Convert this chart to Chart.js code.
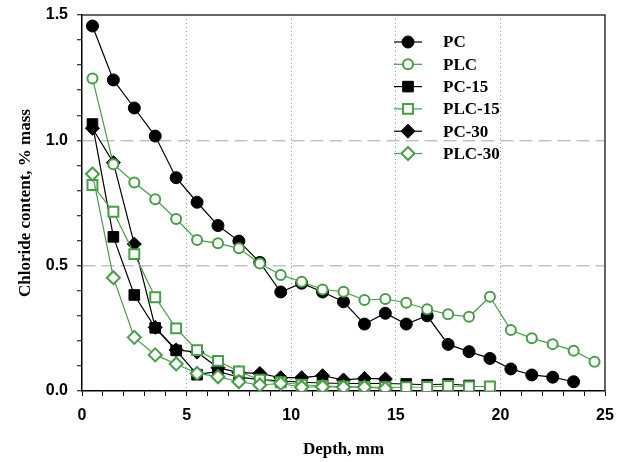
<!DOCTYPE html>
<html>
<head>
<meta charset="utf-8">
<script src="https://cdn.jsdelivr.net/npm/chart.js"></script>
<style>
html,body{margin:0;padding:0;background:#fff;}
#wrap{width:625px;height:462px;position:relative;}
</style>
</head>
<body>
<div id="wrap"><canvas id="c" width="625" height="462"></canvas></div>
<script>
const depths = [0.5,1.5,2.5,3.5,4.5,5.5,6.5,7.5,8.5,9.5,10.5,11.5,12.5,13.5,14.5,15.5,16.5,17.5,18.5,19.5,20.5,21.5,22.5,23.5,24.5];
const seriesNames = ["PC","PLC","PC-15","PLC-15","PC-30","PLC-30"];
const pcValues = [1.456,1.241,1.129,1.017,0.851,0.753,0.660,0.598,0.513,0.395,0.430,0.395,0.356,0.267,0.310,0.267,0.300,0.186,0.157,0.130,0.088,0.064,0.055,0.037];
const plcValues = [1.247,0.905,0.832,0.765,0.686,0.602,0.589,0.569,0.509,0.463,0.436,0.405,0.396,0.363,0.367,0.352,0.326,0.306,0.296,0.376,0.243,0.210,0.187,0.161,0.117];
const pc15Values = [1.065,0.615,0.383,0.252,0.162,0.065,0.078,0.055,0.045,0.040,0.035,0.032,0.030,0.030,0.030,0.028,0.025,0.028,0.022];
const plc15Values = [0.822,0.715,0.546,0.374,0.250,0.163,0.120,0.078,0.045,0.035,0.025,0.020,0.018,0.016,0.015,0.015,0.016,0.020,0.018,0.018];
const pc30Values = [1.048,0.911,0.586,0.254,0.164,0.155,0.093,0.073,0.070,0.053,0.053,0.061,0.044,0.050,0.048];
const plc30Values = [0.866,0.452,0.214,0.144,0.108,0.070,0.057,0.037,0.024,0.030,0.015,0.017,0.015,0.015,0.010];
const xTickLabels = [0,5,10,15,20,25];
const yTickLabels = [0.0,0.5,1.0,1.5];

const GREEN = '#45a045';
const BLACK = '#000000';

function pts(vals){ return vals.map((v,i)=>({x:depths[i], y:v})); }

const styles = [
  {color:BLACK, fill:BLACK, pointStyle:'circle', radius:6, bw:1, order:5},
  {color:GREEN, fill:'#ffffff', pointStyle:'circle', radius:5, bw:2, order:2},
  {color:BLACK, fill:BLACK, pointStyle:'rect', radius:7.5, bw:1, order:4},
  {color:GREEN, fill:'#ffffff', pointStyle:'rect', radius:7, bw:2, order:1},
  {color:BLACK, fill:BLACK, pointStyle:'rectRot', radius:7, bw:1, order:3},
  {color:GREEN, fill:'#ffffff', pointStyle:'rectRot', radius:6.5, bw:2, order:0}
];
const allValues = [pcValues, plcValues, pc15Values, plc15Values, pc30Values, plc30Values];

const datasets = seriesNames.map((name,i)=>({
  label:name,
  data:pts(allValues[i]),
  borderColor:styles[i].color,
  backgroundColor:styles[i].fill,
  borderWidth:1.2,
  pointStyle:styles[i].pointStyle,
  pointRadius:styles[i].radius,
  pointBorderWidth:styles[i].bw,
  pointBorderColor:styles[i].color,
  pointBackgroundColor:styles[i].fill,
  tension:0,
  fill:false,
  order:styles[i].order
}));

const frameAndLegend = {
  id:'frameAndLegend',
  afterDatasetsDraw(chart){
    const ctx = chart.ctx;
    const a = chart.chartArea;
    ctx.save();
    ctx.strokeStyle = '#333';
    ctx.lineWidth = 1.5;
    ctx.beginPath();
    ctx.moveTo(a.left, a.top);
    ctx.lineTo(a.right, a.top);
    ctx.lineTo(a.right, a.bottom);
    ctx.stroke();
    // legend
    const x0 = 394, x1 = 422, xm = 408, xt = 443;
    const y0 = 42, dy = 22.3;
    ctx.font = 'bold 17px "Liberation Serif", "Times New Roman", serif';
    ctx.textBaseline = 'middle';
    ctx.textAlign = 'left';
    seriesNames.forEach((name,i)=>{
      const y = y0 + i*dy;
      const s = styles[i];
      ctx.strokeStyle = s.color;
      ctx.lineWidth = 1.2;
      ctx.setLineDash([]);
      ctx.beginPath(); ctx.moveTo(x0,y); ctx.lineTo(x1,y); ctx.stroke();
      ctx.fillStyle = s.fill;
      ctx.strokeStyle = s.color;
      ctx.lineWidth = s.bw;
      Chart.helpers.drawPoint(ctx, {pointStyle:s.pointStyle, radius:s.radius, borderWidth:s.bw, rotation:0}, xm, y);
      ctx.fillStyle = '#000';
      ctx.fillText(name, xt, y+1);
    });
    ctx.restore();
  }
};

const tickFont = {family:'"Liberation Sans", Arial, sans-serif', size:16, weight:'bold'};
const titleFont = {family:'"Liberation Serif", "Times New Roman", serif', size:17, weight:'bold'};

new Chart(document.getElementById('c'), {
  type:'line',
  data:{datasets},
  plugins:[frameAndLegend],
  options:{
    responsive:false,
    animation:false,
    devicePixelRatio:1,
    layout:{padding:{left:8, right:20, top:15, bottom:2}},
    plugins:{legend:{display:false}, tooltip:{enabled:false}},
    scales:{
      x:{
        type:'linear', min:0, max:25,
        afterFit(s){ s.height = 69; s.paddingLeft = 0; s.paddingRight = 0; },
        ticks:{
          stepSize:1, autoSkip:false, maxRotation:0, color:'#000', font:tickFont, padding:10,
          callback:(v)=> xTickLabels.includes(Math.round(v*1000)/1000) ? String(v) : ''
        },
        grid:{
          color:(c)=> { const v=c.tick?c.tick.value:null; return (v!==null && [5,10,15,20].includes(Math.round(v*1000)/1000)) ? '#9a9a9a' : 'rgba(0,0,0,0)'; },
          lineWidth:1, tickColor:'#000', tickLength:5, tickWidth:1, tickBorderDash:[]
        },
        border:{display:true, color:'#000', width:1.5, dash:[1,3]},
        title:{display:true, text:'Depth, mm', color:'#000', font:titleFont, padding:{top:0,bottom:0}}
      },
      y:{
        type:'linear', min:0, max:1.5,
        afterFit(s){ s.width = 74; s.paddingTop = 0; s.paddingBottom = 0; },
        ticks:{
          stepSize:0.1, autoSkip:false, color:'#000', font:tickFont, padding:9,
          callback:(v)=> { const r=Math.round(v*1000)/1000; return yTickLabels.includes(r) ? r.toFixed(1) : ''; }
        },
        grid:{
          color:(c)=> { const v=c.tick?Math.round(c.tick.value*1000)/1000:null; return (v===0.5||v===1) ? '#c4c4c4' : 'rgba(0,0,0,0)'; },
          lineWidth:1.5, tickColor:'#000', tickLength:5, tickWidth:1, tickBorderDash:[]
        },
        border:{display:true, color:'#000', width:1.5, dash:[13,6]},
        title:{display:true, text:'Chloride content, % mass', color:'#000', font:titleFont, padding:{top:7,bottom:0}}
      }
    }
  }
});
</script>
</body>
</html>
